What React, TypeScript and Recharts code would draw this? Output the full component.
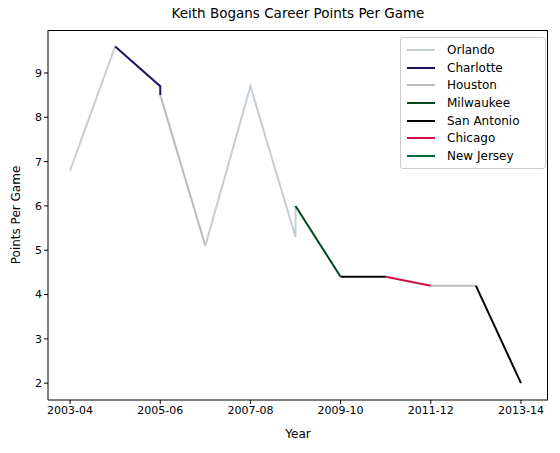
import React from "react";
import { LineChart, Line, XAxis, YAxis } from "recharts";

const seasons = ["2003-04","2004-05","2005-06","2006-07","2007-08","2008-09","2009-10","2010-11","2011-12","2012-13","2013-14"];
const teams = ["Orlando","Charlotte","Houston","Milwaukee","San Antonio","Chicago","New Jersey"];
const colors = ["#c4ced4","#1d1160","#bbbbbb","#00471b","#000000","#ce1141","#006b38"];
const segTeams = ["Orlando","Charlotte","Houston","Orlando","Milwaukee","San Antonio","Chicago","Houston","San Antonio"];
const segX = [[0,1],[1,2,2],[2,3],[3,4,5,5],[5,6],[6,7],[7,8],[8,9],[9,10]];
const segY = [[6.8,9.6],[9.6,8.7,8.5],[8.5,5.1],[5.1,8.7,5.3,6.0],[6.0,4.4],[4.4,4.4],[4.4,4.2],[4.2,4.2],[4.2,2.0]];
const yTicks = [2,3,4,5,6,7,8,9];
const xTicks = [0,2,4,6,8,10];

const font = "DejaVu Sans, sans-serif";

export default function App() {
  return (
    <div style={{ position: "relative", width: 560, height: 453, margin: -8, fontFamily: font, background: "#fff" }}>
      <div style={{ position: "absolute", top: 5, left: 0, width: 596, textAlign: "center", fontSize: 13.5, color: "#000" }}>
        Keith Bogans Career Points Per Game
      </div>
      <LineChart width={560} height={453} margin={{ top: 30, left: 8, right: 12, bottom: 23 }}>
        <XAxis type="number" dataKey="x" domain={[-0.49, 10.6]} ticks={xTicks} allowDuplicatedCategory={false}
          tickFormatter={(v) => seasons[v]} stroke="#000" tick={{ fill: "#000", fontSize: 11, fontFamily: font }}
          tickSize={4} height={30} interval={0} />
        <YAxis type="number" dataKey="y" domain={[1.62, 9.97]} ticks={yTicks} stroke="#000" width={40}
          tick={{ fill: "#000", fontSize: 11, fontFamily: font }} tickSize={4} />
        {segX.map((xs, i) => {
          const data = xs.map((x, j) => ({ x, y: segY[i][j] }));
          return (
            <Line key={i} data={data} dataKey="y" type="linear" dot={false} isAnimationActive={false}
              stroke={colors[teams.indexOf(segTeams[i])]} strokeWidth={2} />
          );
        })}
      </LineChart>
      <div style={{ position: "absolute", left: 48, top: 30, width: 500, height: 370, borderTop: "1px solid #000", borderRight: "1px solid #000", boxSizing: "border-box", pointerEvents: "none" }} />
      <div style={{ position: "absolute", left: 0, top: 427, width: 596, textAlign: "center", fontSize: 12 }}>Year</div>
      <div style={{ position: "absolute", left: 16, top: 215, fontSize: 12, transform: "translate(-50%,-50%) rotate(-90deg)", whiteSpace: "nowrap" }}>Points Per Game</div>
      <div style={{ position: "absolute", left: 400, top: 37, width: 144, padding: "3px 0", border: "1px solid #ccc", borderRadius: 3, background: "#fff", fontSize: 12 }}>
        {teams.map((t, i) => (
          <div key={t} style={{ display: "flex", alignItems: "center", height: 17.7, paddingLeft: 6 }}>
            <div style={{ width: 28, height: 2, background: colors[i], marginRight: 12 }} />
            <span>{t}</span>
          </div>
        ))}
      </div>
    </div>
  );
}
